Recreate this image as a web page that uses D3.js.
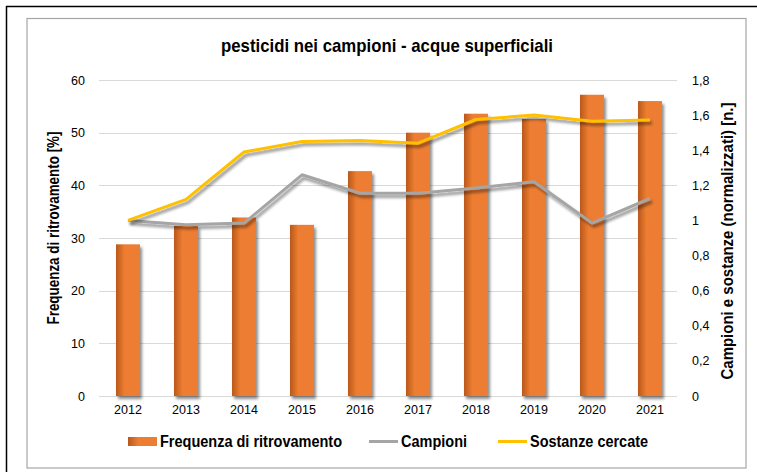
<!DOCTYPE html>
<html>
<head>
<meta charset="utf-8">
<script src="https://cdn.jsdelivr.net/npm/d3@7"></script>
<style>
  body { margin:0; background:#fff; }
  text { font-family: "Liberation Sans Narrow", "Arial Narrow", "Liberation Sans", sans-serif; fill:#000; }
</style>
</head>
<body>
<div class="canvas"></div>
<script>
// data
const years = ['2012','2013','2014','2015','2016','2017','2018','2019','2020','2021'];
const frequenza = [28.8, 32.3, 33.9, 32.5, 42.7, 50.0, 53.6, 52.6, 57.2, 56.0];
const campioni  = [1.00, 0.975, 0.985, 1.26, 1.155, 1.155, 1.185, 1.22, 0.985, 1.125];
const sostanze  = [1.00, 1.12, 1.39, 1.45, 1.455, 1.44, 1.575, 1.60, 1.565, 1.572];
const leftTicks  = [0,10,20,30,40,50,60];
const rightTicks = [0,0.2,0.4,0.6,0.8,1,1.2,1.4,1.6,1.8];

const W = 757, H = 472;
const plot = { left:99, right:679, top:80, bottom:396 };

const svg = d3.select('.canvas').append('svg')
  .attr('width', W).attr('height', H);

const defs = svg.append('defs');
const grad = defs.append('linearGradient').attr('id','barGrad')
  .attr('x1','0%').attr('x2','100%').attr('y1','0%').attr('y2','0%');
grad.append('stop').attr('offset','0%').attr('stop-color','#b8581c');
grad.append('stop').attr('offset','35%').attr('stop-color','#ed7d31');
grad.append('stop').attr('offset','100%').attr('stop-color','#ed7d31');

const shadow = defs.append('filter').attr('id','shadow')
  .attr('x','-10%').attr('y','-30%').attr('width','130%').attr('height','160%');
shadow.append('feGaussianBlur').attr('in','SourceAlpha').attr('stdDeviation',1.6).attr('result','b');
shadow.append('feOffset').attr('in','b').attr('dx',2).attr('dy',3).attr('result','o');
shadow.append('feComponentTransfer').attr('in','o').attr('result','s')
  .append('feFuncA').attr('type','linear').attr('slope',0.45);
const merge = shadow.append('feMerge');
merge.append('feMergeNode').attr('in','s');
merge.append('feMergeNode').attr('in','SourceGraphic');

// frames
svg.append('line').attr('x1',6).attr('x2',W).attr('y1',6.5).attr('y2',6.5)
  .attr('stroke','#000').attr('stroke-width',1.5);
svg.append('line').attr('x1',6.5).attr('x2',6.5).attr('y1',6).attr('y2',H)
  .attr('stroke','#000').attr('stroke-width',1.5);
svg.append('rect').attr('x',27).attr('y',18.5).attr('width',719).attr('height',449.5)
  .attr('fill','none').attr('stroke','#a6a6a6').attr('stroke-width',1.2);

// scales
const x = d3.scaleBand().domain(years).range([plot.left, plot.right]);
const yL = d3.scaleLinear().domain([0,60]).range([plot.bottom, plot.top]);
const yR = d3.scaleLinear().domain([0,1.8]).range([plot.bottom, plot.top]);

// gridlines
svg.append('g').selectAll('line').data(leftTicks).join('line')
  .attr('x1', plot.left).attr('x2', plot.right - 2)
  .attr('y1', d => Math.round(yL(d)) + 0.5).attr('y2', d => Math.round(yL(d)) + 0.5)
  .attr('stroke', '#d9d9d9').attr('stroke-width', 1);

// left axis
const axL = svg.append('g').attr('transform', `translate(${plot.left},0)`)
  .call(d3.axisLeft(yL).tickValues(leftTicks).tickSize(0).tickPadding(14));
axL.select('.domain').remove();
axL.selectAll('text').style('font-size','12.5px').attr('fill','#000');

// right axis
const fmt = d => String(d).replace('.', ',');
const axR = svg.append('g').attr('transform', `translate(${plot.right},0)`)
  .call(d3.axisRight(yR).tickValues(rightTicks).tickFormat(fmt).tickSize(0).tickPadding(13));
axR.select('.domain').remove();
axR.selectAll('text').style('font-size','12.5px').attr('fill','#000');

// bottom axis
const axB = svg.append('g').attr('transform', `translate(0,${plot.bottom})`)
  .call(d3.axisBottom(x).tickSize(0).tickPadding(9));
axB.select('.domain').remove();
axB.selectAll('text').style('font-size','12.5px').attr('fill','#000');

// bars
const bw = 24;
svg.append('g').selectAll('rect').data(frequenza).join('rect')
  .attr('x', (d,i) => x(years[i]) + x.bandwidth()/2 - bw/2)
  .attr('y', d => yL(d))
  .attr('width', bw)
  .attr('height', d => plot.bottom - yL(d))
  .attr('fill', 'url(#barGrad)')
  .attr('filter', 'url(#shadow)');

// lines
const line = d3.line()
  .x((d,i) => x(years[i]) + x.bandwidth()/2)
  .y(d => yR(d));

svg.append('path').datum(campioni)
  .attr('d', line).attr('fill','none')
  .attr('stroke','#a5a5a5').attr('stroke-width',3)
  .attr('stroke-linejoin','round').attr('filter','url(#shadow)');

svg.append('path').datum(sostanze)
  .attr('d', line).attr('fill','none')
  .attr('stroke','#ffc000').attr('stroke-width',3)
  .attr('stroke-linejoin','round').attr('filter','url(#shadow)');

// narrow-looking text: squeeze to the measured width
const squeeze = (sel, len) => sel.attr('textLength', len).attr('lengthAdjust', 'spacingAndGlyphs');

// title
svg.append('text').attr('x', 387).attr('y', 52)
  .attr('text-anchor','middle').style('font-size','19px').style('font-weight','bold')
  .text('pesticidi nei campioni - acque superficiali').call(squeeze, 332);

// axis titles
svg.append('text').attr('transform', 'translate(59,228) rotate(-90)')
  .attr('text-anchor','middle').style('font-size','16px').style('font-weight','bold')
  .text('Frequenza di ritrovamento [%]').call(squeeze, 193);

svg.append('text').attr('transform', 'translate(733,241) rotate(-90)')
  .attr('text-anchor','middle').style('font-size','16px').style('font-weight','bold')
  .text('Campioni e sostanze (normalizzati) [n.]').call(squeeze, 277);

// legend
const leg = svg.append('g').style('font-size','16px').style('font-weight','bold');
leg.append('rect').attr('x',128).attr('y',437).attr('width',29).attr('height',9)
  .attr('fill','url(#barGrad)');
leg.append('text').attr('x',160).attr('y',447).text('Frequenza di ritrovamento').call(squeeze, 182);
leg.append('line').attr('x1',369).attr('x2',398).attr('y1',441.5).attr('y2',441.5)
  .attr('stroke','#a5a5a5').attr('stroke-width',3);
leg.append('text').attr('x',401).attr('y',447).text('Campioni').call(squeeze, 66);
leg.append('line').attr('x1',498).attr('x2',527).attr('y1',441.5).attr('y2',441.5)
  .attr('stroke','#ffc000').attr('stroke-width',3);
leg.append('text').attr('x',530).attr('y',447).text('Sostanze cercate').call(squeeze, 118);
</script>
</body>
</html>
